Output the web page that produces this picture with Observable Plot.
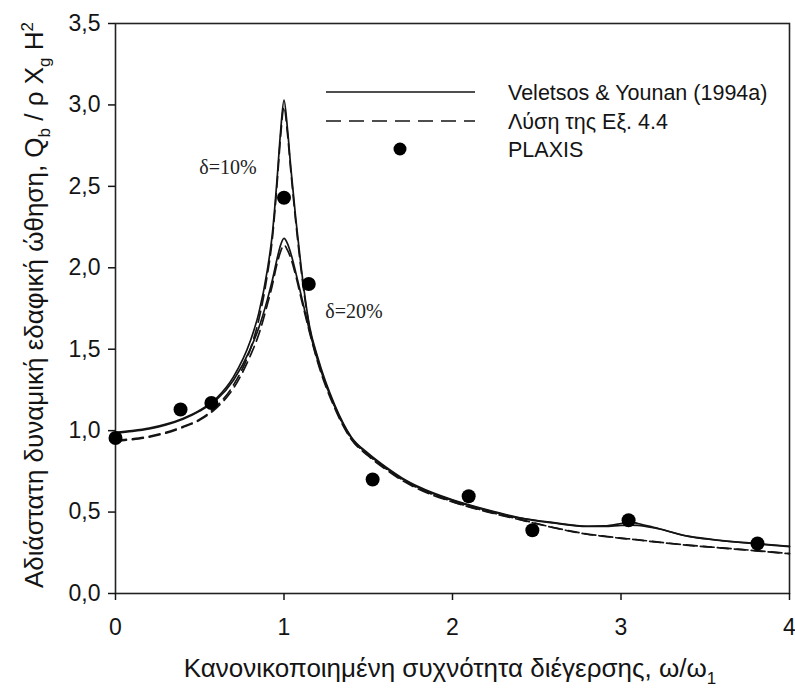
<!DOCTYPE html>
<html><head><meta charset="utf-8">
<script src="https://cdn.jsdelivr.net/npm/d3@7"></script>
<script src="https://cdn.jsdelivr.net/npm/@observablehq/plot@0.6"></script>
<style>
body{margin:0;background:#fff}
#wrap{position:relative;width:795px;height:688px}
</style>
</head><body><div id="wrap"></div>
<script>
// normalized frequency grid (ω/ω1) shared by the analytical curves
const xGrid = [0, 0.1, 0.2, 0.3, 0.4, 0.5, 0.6, 0.7, 0.8, 0.85, 0.9, 0.93, 0.96, 0.98, 1.0, 1.02, 1.04, 1.07, 1.1, 1.15, 1.2, 1.3, 1.4, 1.5, 1.6, 1.7, 1.8, 2.0, 2.2, 2.4, 2.6, 2.8, 2.9, 3.0, 3.05, 3.1, 3.2, 3.4, 3.6, 3.8, 4.0];
// Veletsos & Younan (1994a), δ=10%
const veletsos10 = [0.99, 1.00, 1.015, 1.04, 1.075, 1.125, 1.2, 1.33, 1.55, 1.72, 1.98, 2.2, 2.56, 2.84, 3.03, 2.86, 2.62, 2.3, 2.02, 1.65, 1.45, 1.16, 0.96, 0.86, 0.78, 0.71, 0.655, 0.575, 0.515, 0.465, 0.435, 0.413, 0.415, 0.43, 0.44, 0.43, 0.405, 0.352, 0.325, 0.307, 0.29];
// Λύση της Εξ. 4.4, δ=10%
const eq44_10 = [0.94, 0.95, 0.965, 0.99, 1.025, 1.07, 1.15, 1.28, 1.5, 1.68, 1.95, 2.17, 2.53, 2.81, 2.99, 2.83, 2.6, 2.28, 2.0, 1.64, 1.44, 1.15, 0.95, 0.85, 0.77, 0.70, 0.645, 0.565, 0.505, 0.455, 0.405, 0.365, 0.352, 0.34, 0.335, 0.33, 0.318, 0.297, 0.28, 0.263, 0.245];
// Veletsos & Younan (1994a), δ=20%
const veletsos20 = [0.985, 0.995, 1.01, 1.035, 1.07, 1.12, 1.19, 1.31, 1.5, 1.63, 1.8, 1.92, 2.06, 2.14, 2.18, 2.15, 2.09, 1.97, 1.84, 1.62, 1.43, 1.15, 0.955, 0.855, 0.775, 0.705, 0.65, 0.572, 0.512, 0.463, 0.433, 0.412, 0.412, 0.418, 0.42, 0.418, 0.402, 0.35, 0.324, 0.305, 0.288];
// Λύση της Εξ. 4.4, δ=20%
const eq44_20 = [0.935, 0.945, 0.96, 0.985, 1.02, 1.065, 1.14, 1.26, 1.46, 1.59, 1.77, 1.89, 2.03, 2.1, 2.14, 2.11, 2.06, 1.95, 1.82, 1.61, 1.42, 1.14, 0.945, 0.845, 0.765, 0.695, 0.64, 0.562, 0.503, 0.453, 0.404, 0.364, 0.351, 0.339, 0.334, 0.329, 0.317, 0.296, 0.279, 0.262, 0.244];
// PLAXIS results
const plaxisX = [0, 0.386, 0.569, 1.0, 1.147, 1.526, 2.096, 2.474, 3.045, 3.81];
const plaxisY = [0.955, 1.13, 1.17, 2.43, 1.90, 0.70, 0.597, 0.388, 0.45, 0.307];

const xTicks = [0, 1, 2, 3, 4];
const yTicks = [0, 0.5, 1.0, 1.5, 2.0, 2.5, 3.0, 3.5];
const legendLabels = ["Veletsos & Younan (1994a)", "Λύση της Εξ. 4.4", "PLAXIS"];
const dampingLabels = ["δ=10%", "δ=20%"];

const toRows = ys => xGrid.map((x, i) => ({x, y: ys[i]}));
const plaxis = plaxisX.map((x, i) => ({x, y: plaxisY[i]}));
const peak10 = toRows(veletsos10).filter(d => d.x === 1.0).map(d => ({...d, label: dampingLabels[0]}));
const peak20 = toRows(veletsos20).filter(d => d.x === 1.0).map(d => ({...d, label: dampingLabels[1]}));

const SANS = "'Liberation Sans', Arial, sans-serif";
const SERIF = "'Liberation Serif', 'Times New Roman', serif";
const INK = "#141414";

const chart = Plot.plot({
  width: 795, height: 688,
  marginLeft: 115, marginRight: 6, marginTop: 23, marginBottom: 95,
  style: {fontFamily: SANS, background: "#fff", color: INK},
  x: {domain: [0, 4]},
  y: {domain: [0, 3.5]},
  marks: [
    Plot.frame({stroke: "#222", strokeWidth: 1.6}),
    Plot.axisX({ticks: xTicks, tickFormat: d => String(d), tickSize: 7, tickPadding: 18, fontSize: 23, strokeWidth: 1.5, label: null}),
    Plot.axisY({ticks: yTicks, tickFormat: d => d.toFixed(1).replace(".", ","), tickSize: 7, tickPadding: 8, fontSize: 23, strokeWidth: 1.5, label: null}),
    Plot.line(toRows(veletsos10), {x: "x", y: "y", curve: "monotone-x", stroke: INK, strokeWidth: 1.7}),
    Plot.line(toRows(veletsos20), {x: "x", y: "y", curve: "monotone-x", stroke: INK, strokeWidth: 1.7}),
    Plot.line(toRows(eq44_10), {x: "x", y: "y", curve: "monotone-x", stroke: INK, strokeWidth: 1.7, strokeDasharray: "11,6"}),
    Plot.line(toRows(eq44_20), {x: "x", y: "y", curve: "monotone-x", stroke: INK, strokeWidth: 1.7, strokeDasharray: "11,6"}),
    Plot.dot(plaxis, {x: "x", y: "y", r: 7, fill: "#000", stroke: "none"}),
    Plot.text(peak10, {x: "x", y: "y", text: "label", dx: -56, dy: 68, fontFamily: SERIF, fontSize: 20, fill: "#222"}),
    Plot.text(peak20, {x: "x", y: "y", text: "label", dx: 70, dy: 73, fontFamily: SERIF, fontSize: 20, fill: "#222"})
  ]
});

const svg = d3.select(chart);
// axis titles with sub/superscripts
const yt = svg.append("text")
  .attr("transform", "translate(43,305) rotate(-90)")
  .attr("text-anchor", "middle")
  .attr("font-family", SANS).attr("font-size", 26).attr("fill", INK);
yt.append("tspan").text("Αδιάστατη δυναμική εδαφική ώθηση, Q");
yt.append("tspan").attr("dy", 7).attr("font-size", 17).text("b");
yt.append("tspan").attr("dy", -7).text(" / ρ X");
yt.append("tspan").attr("dy", 7).attr("font-size", 17).text("g");
yt.append("tspan").attr("dy", -7).text(" H");
yt.append("tspan").attr("dy", -10).attr("font-size", 17).text("2");

const xt = svg.append("text")
  .attr("x", 450).attr("y", 677)
  .attr("text-anchor", "middle")
  .attr("font-family", SANS).attr("font-size", 26).attr("fill", INK);
xt.append("tspan").text("Κανονικοποιημένη συχνότητα διέγερσης, ω/ω");
xt.append("tspan").attr("dy", 7).attr("font-size", 17).text("1");

// legend
const lg = svg.append("g").attr("font-family", SANS).attr("font-size", 21.5).attr("fill", INK).attr("text-anchor", "start");
lg.append("line").attr("x1", 326).attr("x2", 475).attr("y1", 92).attr("y2", 92).attr("stroke", INK).attr("stroke-width", 1.7);
lg.append("line").attr("x1", 326).attr("x2", 475).attr("y1", 121).attr("y2", 121).attr("stroke", INK).attr("stroke-width", 1.7).attr("stroke-dasharray", "15,8");
lg.append("circle").attr("cx", 400).attr("cy", 149).attr("r", 6.5).attr("fill", "#000");
legendLabels.forEach((t, i) => {
  lg.append("text").attr("x", 508).attr("y", 100 + i * 28.5).attr("text-anchor", "start").text(t);
});

document.getElementById("wrap").appendChild(chart);
</script>
</body></html>
